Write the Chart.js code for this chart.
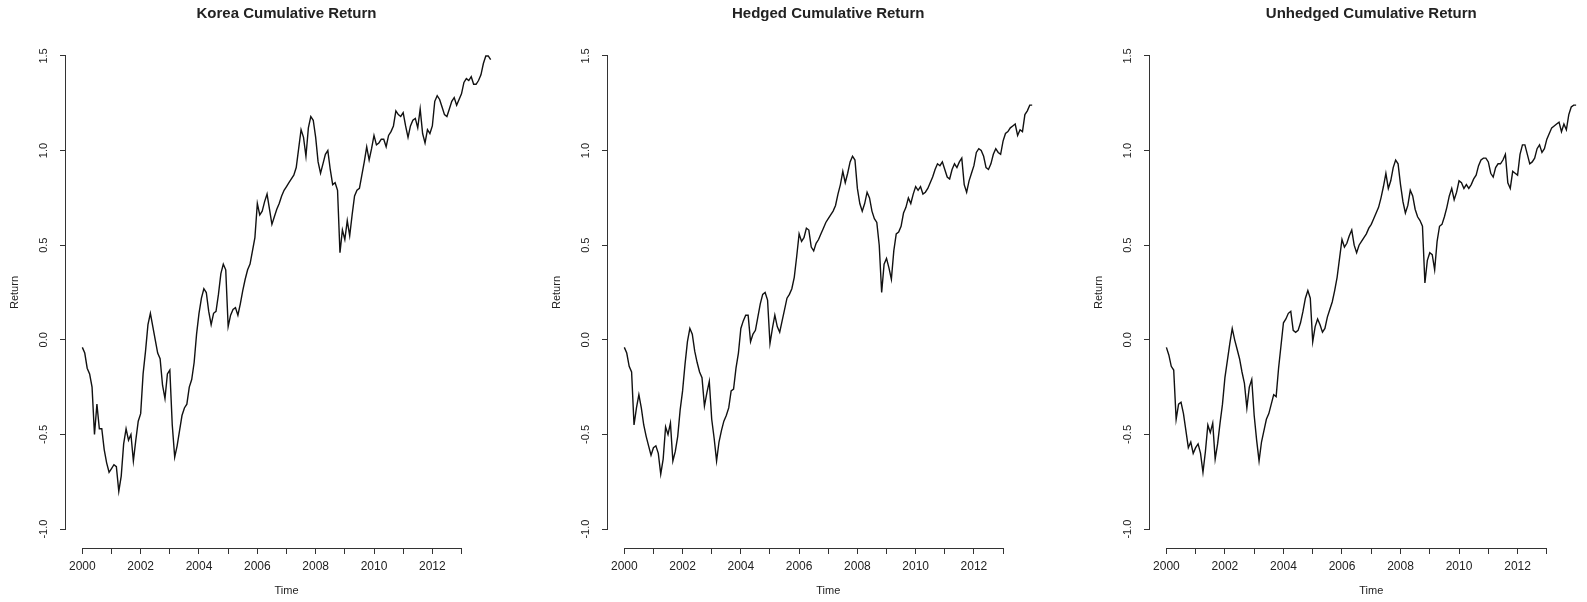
<!DOCTYPE html>
<html>
<head>
<meta charset="utf-8">
<script src="https://cdn.jsdelivr.net/npm/chart.js@4/dist/chart.umd.min.js"></script>
<style>
  html, body { margin: 0; padding: 0; background: #ffffff; }
  body { width: 1587px; height: 602px; overflow: hidden; position: relative; }
  .panel { position: absolute; top: 0; width: 542px; height: 602px; }
</style>
</head>
<body>
<div class="panel" style="left:0px"><canvas id="korea" width="542" height="602"></canvas></div>
<div class="panel" style="left:542px"><canvas id="hedged" width="542" height="602"></canvas></div>
<div class="panel" style="left:1084px"><canvas id="unhedged" width="542" height="602"></canvas></div>
<script>
// Monthly series, January 2000 through January 2014
const startYear = 2000;
const periodsPerYear = 12;

const koreaReturn = [
  -0.04,-0.07,-0.15,-0.18,-0.25,-0.50,-0.34,-0.47,-0.47,-0.58,-0.65,-0.70,
  -0.68,-0.66,-0.67,-0.80,-0.72,-0.55,-0.47,-0.53,-0.50,-0.64,-0.53,-0.43,
  -0.39,-0.18,-0.06,0.08,0.14,0.07,0.00,-0.07,-0.10,-0.24,-0.31,-0.18,
  -0.16,-0.45,-0.62,-0.56,-0.48,-0.40,-0.36,-0.34,-0.25,-0.21,-0.12,0.03,
  0.14,0.22,0.27,0.25,0.15,0.08,0.14,0.15,0.24,0.35,0.40,0.37,
  0.07,0.13,0.16,0.17,0.13,0.19,0.26,0.32,0.37,0.40,0.47,0.54,
  0.72,0.66,0.68,0.73,0.77,0.69,0.61,0.65,0.69,0.72,0.76,0.79,
  0.81,0.83,0.85,0.87,0.91,1.01,1.11,1.07,0.97,1.12,1.18,1.16,
  1.07,0.94,0.88,0.93,0.98,1.00,0.90,0.82,0.83,0.79,0.46,0.58,
  0.53,0.63,0.55,0.66,0.76,0.79,0.80,0.87,0.94,1.02,0.95,1.01,
  1.08,1.03,1.04,1.06,1.06,1.02,1.08,1.10,1.13,1.21,1.19,1.18,
  1.20,1.13,1.07,1.13,1.16,1.17,1.12,1.22,1.09,1.04,1.11,1.09,
  1.13,1.26,1.29,1.27,1.23,1.19,1.18,1.22,1.26,1.28,1.24,1.27,
  1.30,1.36,1.38,1.37,1.39,1.35,1.35,1.37,1.40,1.46,1.50,1.50,
  1.48
];

const hedgedReturn = [
  -0.04,-0.07,-0.14,-0.17,-0.45,-0.36,-0.29,-0.36,-0.45,-0.51,-0.56,-0.61,
  -0.57,-0.56,-0.60,-0.71,-0.63,-0.46,-0.50,-0.44,-0.64,-0.59,-0.51,-0.37,
  -0.27,-0.13,-0.01,0.06,0.03,-0.06,-0.12,-0.17,-0.20,-0.35,-0.28,-0.22,
  -0.42,-0.52,-0.64,-0.54,-0.48,-0.43,-0.40,-0.36,-0.27,-0.26,-0.15,-0.07,
  0.06,0.10,0.13,0.13,-0.01,0.03,0.05,0.12,0.19,0.24,0.25,0.21,
  -0.02,0.06,0.13,0.07,0.04,0.10,0.16,0.22,0.24,0.27,0.33,0.44,
  0.56,0.52,0.54,0.59,0.58,0.49,0.47,0.51,0.53,0.56,0.59,0.62,
  0.64,0.66,0.68,0.71,0.77,0.82,0.89,0.83,0.88,0.94,0.97,0.95,
  0.80,0.72,0.68,0.72,0.78,0.75,0.68,0.64,0.62,0.50,0.25,0.40,
  0.43,0.38,0.32,0.47,0.56,0.57,0.60,0.67,0.70,0.75,0.72,0.77,
  0.81,0.79,0.81,0.77,0.78,0.80,0.83,0.86,0.90,0.93,0.92,0.94,
  0.90,0.86,0.85,0.90,0.93,0.91,0.94,0.96,0.82,0.78,0.84,0.88,
  0.92,0.99,1.01,1.00,0.97,0.91,0.90,0.93,0.98,1.01,0.99,0.98,
  1.05,1.09,1.10,1.12,1.13,1.14,1.08,1.11,1.10,1.19,1.21,1.24,
  1.24
];

const unhedgedReturn = [
  -0.04,-0.08,-0.14,-0.16,-0.42,-0.34,-0.33,-0.39,-0.48,-0.57,-0.54,-0.60,
  -0.57,-0.55,-0.60,-0.70,-0.59,-0.45,-0.49,-0.44,-0.63,-0.55,-0.44,-0.34,
  -0.20,-0.11,-0.02,0.06,0.00,-0.05,-0.10,-0.17,-0.23,-0.36,-0.25,-0.21,
  -0.40,-0.53,-0.64,-0.54,-0.48,-0.42,-0.39,-0.34,-0.29,-0.30,-0.15,-0.03,
  0.09,0.11,0.14,0.15,0.05,0.04,0.05,0.09,0.15,0.22,0.26,0.22,
  -0.01,0.07,0.11,0.08,0.04,0.06,0.12,0.16,0.20,0.26,0.33,0.43,
  0.53,0.49,0.51,0.55,0.58,0.50,0.46,0.50,0.52,0.54,0.56,0.59,
  0.61,0.64,0.67,0.70,0.75,0.81,0.88,0.80,0.84,0.91,0.95,0.93,
  0.82,0.73,0.67,0.71,0.79,0.76,0.69,0.65,0.63,0.60,0.30,0.42,
  0.46,0.45,0.37,0.52,0.60,0.61,0.65,0.70,0.76,0.80,0.74,0.78,
  0.84,0.83,0.80,0.82,0.80,0.82,0.85,0.87,0.92,0.95,0.96,0.96,
  0.94,0.88,0.86,0.91,0.93,0.93,0.95,0.98,0.83,0.80,0.89,0.88,
  0.87,0.98,1.03,1.03,0.98,0.93,0.94,0.96,1.01,1.03,0.99,1.01,
  1.06,1.09,1.12,1.13,1.14,1.15,1.10,1.14,1.11,1.19,1.23,1.24,
  1.24
];

const xTickValues = [2000,2001,2002,2003,2004,2005,2006,2007,2008,2009,2010,2011,2012,2013];
const xTickLabels = ['2000','','2002','','2004','','2006','','2008','','2010','','2012',''];
const yTickValues = [-1.0,-0.5,0.0,0.5,1.0,1.5];
const yTickLabels = ['-1.0','-0.5','0.0','0.5','1.0','1.5'];

const panelTitles = ['Korea Cumulative Return','Hedged Cumulative Return','Unhedged Cumulative Return'];
const xAxisTitle = 'Time';
const yAxisTitle = 'Return';

const FONT = '"Liberation Sans", Arial, Helvetica, sans-serif';
const INK = '#222222';
const AXIS = '#333333';

function toPoints(values) {
  return values.map((v, i) => ({ x: startYear + i / periodsPerYear, y: v }));
}

// Axis lines spanning only the first to last tick, as in base R graphics
const tickSpanAxes = {
  id: 'tickSpanAxes',
  afterDraw(chart) {
    const { ctx, chartArea, scales } = chart;
    const xs = scales.x, ys = scales.y;
    ctx.save();
    ctx.strokeStyle = AXIS;
    ctx.lineWidth = 1;
    ctx.beginPath();
    const yb = Math.round(chartArea.bottom) + 0.5;
    ctx.moveTo(xs.getPixelForValue(xTickValues[0]), yb);
    ctx.lineTo(xs.getPixelForValue(xTickValues[xTickValues.length - 1]), yb);
    const xl = Math.round(chartArea.left) - 0.5;
    ctx.moveTo(xl, ys.getPixelForValue(yTickValues[0]));
    ctx.lineTo(xl, ys.getPixelForValue(yTickValues[yTickValues.length - 1]));
    ctx.stroke();
    ctx.restore();
  }
};

function makePanel(canvasId, title, values, rightPad) {
  return new Chart(document.getElementById(canvasId), {
    type: 'line',
    data: {
      datasets: [{
        data: toPoints(values),
        borderColor: '#111111',
        borderWidth: 1.4,
        pointRadius: 0,
        tension: 0,
        fill: false
      }]
    },
    options: {
      responsive: false,
      animation: false,
      devicePixelRatio: 1,
      layout: { padding: { left: 0, right: rightPad, top: 0, bottom: 0 } },
      plugins: {
        legend: { display: false },
        tooltip: { enabled: false },
        title: {
          display: true,
          text: title,
          fullSize: false,
          color: INK,
          font: { family: FONT, size: 15, weight: 'bold', lineHeight: 1.2 },
          padding: { top: 5, bottom: 14 }
        }
      },
      scales: {
        x: {
          type: 'linear',
          min: 1999.44,
          max: 2014.56,
          border: { display: false },
          grid: { drawOnChartArea: false, drawTicks: true, tickLength: 6, color: AXIS, tickColor: AXIS },
          afterBuildTicks(scale) { scale.ticks = xTickValues.map(v => ({ value: v })); },
          afterFit(scale) { scale.height = 54; },
          ticks: {
            autoSkip: false,
            maxRotation: 0,
            padding: 5,
            color: INK,
            font: { family: FONT, size: 12 },
            callback(value, index) { return xTickLabels[index]; }
          },
          title: {
            display: true,
            text: xAxisTitle,
            color: INK,
            font: { family: FONT, size: 11 },
            padding: { top: 0, bottom: 4 }
          }
        },
        y: {
          type: 'linear',
          min: -1.1,
          max: 1.6,
          border: { display: false },
          grid: { drawOnChartArea: false, drawTicks: true, tickLength: 6, color: AXIS, tickColor: AXIS },
          afterBuildTicks(scale) { scale.ticks = yTickValues.map(v => ({ value: v })); },
          afterFit(scale) { scale.width = 66; },
          ticks: {
            autoSkip: false,
            minRotation: 90,
            maxRotation: 90,
            crossAlign: 'center',
            padding: 7,
            color: INK,
            font: { family: FONT, size: 11 },
            callback(value, index) { return yTickLabels[index]; }
          },
          title: {
            display: true,
            text: yAxisTitle,
            color: INK,
            font: { family: FONT, size: 11 },
            padding: { top: 8, bottom: 0 }
          }
        }
      }
    },
    plugins: [tickSpanAxes]
  });
}

makePanel('korea', panelTitles[0], koreaReturn, 35);
makePanel('hedged', panelTitles[1], hedgedReturn, 35.5);
makePanel('unhedged', panelTitles[2], unhedgedReturn, 33.5);
</script>
</body>
</html>
